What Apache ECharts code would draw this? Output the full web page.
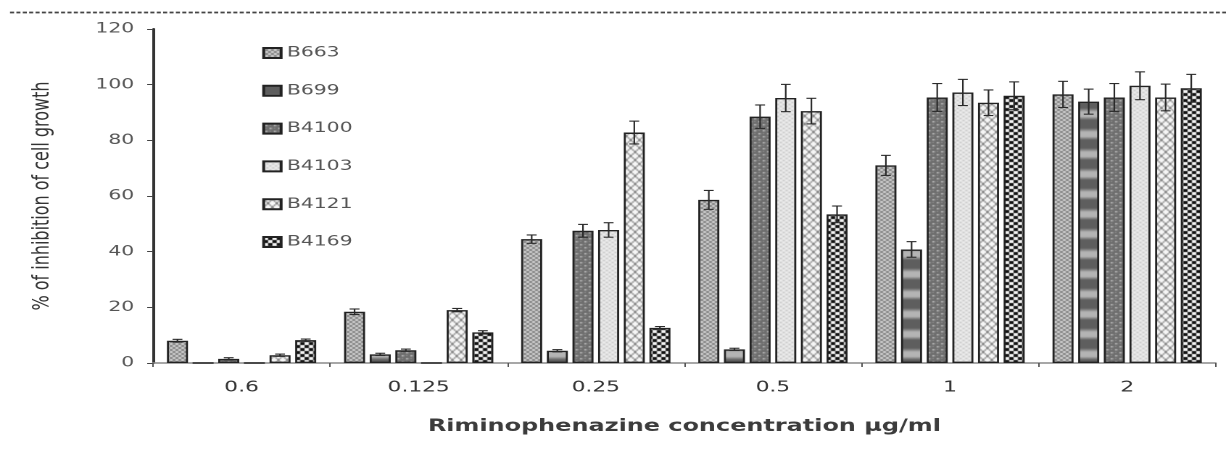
<!DOCTYPE html>
<html>
<head>
<meta charset="utf-8">
<script src="https://cdn.jsdelivr.net/npm/echarts@6/dist/echarts.min.js"></script>
<style>
html,body{margin:0;padding:0;background:#fff;overflow:hidden;}
#wrap{width:1226px;height:451px;overflow:hidden;position:relative;}
#c{position:absolute;left:0;top:0;height:451px;transform-origin:0 0;}
</style>
</head>
<body>
<div id="wrap"><div id="c"></div></div>
<script>
// ---- data ----
const categories = ['0.6', '0.125', '0.25', '0.5', '1', '2'];
const seriesNames = ['B663', 'B699', 'B4100', 'B4103', 'B4121', 'B4169'];
const B663  = [8.0, 18.4, 44.5, 58.6, 71.0, 96.5];
const B699  = [0, 3.1, 4.4, 4.9, 40.8, 93.9];
const B4100 = [1.5, 4.6, 47.5, 88.5, 95.4, 95.4];
const B4103 = [0, 0, 47.8, 95.2, 97.2, 99.6];
const B4121 = [2.8, 19.0, 82.8, 90.5, 93.5, 95.4];
const B4169 = [8.2, 11.0, 12.6, 53.4, 96.0, 98.7];
const err_B663  = [0.5, 1.0, 1.5, 3.4, 3.6, 4.7];
const err_B699  = [0, 0.4, 0.4, 0.4, 2.8, 4.5];
const err_B4100 = [0.4, 0.4, 2.3, 4.2, 5.0, 5.0];
const err_B4103 = [0, 0, 2.6, 4.9, 4.7, 5.0];
const err_B4121 = [0.4, 0.6, 4.1, 4.6, 4.6, 4.8];
const err_B4169 = [0.4, 0.6, 0.5, 3.0, 5.0, 5.0];
const yTicks = {min: 0, max: 120, interval: 20};
const xTitle = 'Riminophenazine concentration µg/ml';
const yTitle = '% of inhibition of cell growth';

const values = [B663, B699, B4100, B4103, B4121, B4169];
const errors = [err_B663, err_B699, err_B4100, err_B4103, err_B4121, err_B4169];

// ---- layout (the source figure is horizontally stretched) ----
const K = 1.45;
const W = 1226 / K;
const el = document.getElementById('c');
el.style.width = W + 'px';
el.style.transform = 'scaleX(' + K + ')';

// ---- patterns ----
function tile(w, h, draw) {
  const cv = document.createElement('canvas');
  cv.width = w; cv.height = h;
  const g = cv.getContext('2d');
  draw(g, w, h);
  return {image: cv, repeat: 'repeat'};
}
const patterns = [
  // B663: grey fine crosshatch
  tile(4, 4, (g) => {
    g.fillStyle = '#cdcdcd'; g.fillRect(0, 0, 4, 4);
    g.fillStyle = '#858585';
    g.fillRect(0, 0, 1, 1); g.fillRect(1, 1, 1, 1); g.fillRect(2, 2, 1, 1); g.fillRect(3, 3, 1, 1);
    g.fillRect(3, 0, 1, 1); g.fillRect(0, 3, 1, 1); g.fillRect(2, 1, 1, 1); g.fillRect(1, 2, 1, 1);
  }),
  // B699: horizontal dark/light bands
  tile(4, 20, (g) => {
    const gr = g.createLinearGradient(0, 0, 0, 20);
    gr.addColorStop(0, '#5e5e5e');
    gr.addColorStop(0.4, '#5e5e5e');
    gr.addColorStop(0.6, '#b4b4b4');
    gr.addColorStop(0.82, '#b4b4b4');
    gr.addColorStop(1, '#5e5e5e');
    g.fillStyle = gr; g.fillRect(0, 0, 4, 20);
  }),
  // B4100: dark grey with light dots
  tile(6, 6, (g) => {
    g.fillStyle = '#6e6e6e'; g.fillRect(0, 0, 6, 6);
    g.fillStyle = '#bdbdbd';
    g.fillRect(1, 1, 1.5, 1.5); g.fillRect(4, 4, 1.5, 1.5);
    g.fillStyle = '#8c8c8c';
    g.fillRect(4, 1, 1, 1); g.fillRect(1, 4, 1, 1);
  }),
  // B4103: very light grey, faint texture
  tile(4, 4, (g) => {
    g.fillStyle = '#e2e2e2'; g.fillRect(0, 0, 4, 4);
    g.fillStyle = '#c4c4c4';
    g.fillRect(0, 0, 1, 1); g.fillRect(2, 2, 1, 1);
    g.fillStyle = '#f2f2f2';
    g.fillRect(2, 0, 1, 1); g.fillRect(0, 2, 1, 1);
  }),
  // B4121: white with grey diamond lattice
  tile(6, 8, (g) => {
    g.fillStyle = '#f6f6f6'; g.fillRect(0, 0, 6, 8);
    g.strokeStyle = '#7a7a7a'; g.lineWidth = 1;
    g.beginPath();
    g.moveTo(0, 0); g.lineTo(3, 4); g.lineTo(0, 8);
    g.moveTo(6, 0); g.lineTo(3, 4); g.lineTo(6, 8);
    g.stroke();
  }),
  // B4169: black / white checker
  tile(6, 6, (g) => {
    g.fillStyle = '#111'; g.fillRect(0, 0, 6, 6);
    g.fillStyle = '#f4f4f4';
    g.fillRect(0, 0, 3, 3); g.fillRect(3, 3, 3, 3);
  })
];

// ---- chart ----
const chart = echarts.init(el, null, {renderer: 'canvas', devicePixelRatio: 2});
const BAR_W = 14.5, BAR_GAP = 0.22;
const STEP = BAR_W * (1 + BAR_GAP);
const FONT = "'DejaVu Sans', Verdana, sans-serif";

const barSeries = seriesNames.map((name, i) => ({
  name: name,
  type: 'bar',
  data: values[i],
  barWidth: BAR_W,
  barGap: (BAR_GAP * 100) + '%',
  itemStyle: {color: patterns[i], borderColor: '#222', borderWidth: 1.4},
  emphasis: {disabled: true},
  z: 2
}));

const errSeries = seriesNames.map((name, i) => ({
  name: name + ' error',
  type: 'custom',
  z: 3,
  silent: true,
  encode: {x: 0, y: 1},
  data: categories.map((c, j) => [j, values[i][j], errors[i][j]]),
  renderItem: function (params, api) {
    const e = api.value(2);
    if (!e) return null;
    const idx = api.value(0), v = api.value(1);
    const off = (i - 2.5) * STEP;
    const top = api.coord([idx, v + e]);
    const bot = api.coord([idx, v - e]);
    const x = top[0] + off;
    const hw = 3.4;
    const st = {stroke: '#2a2a2a', lineWidth: 1.1};
    return {
      type: 'group',
      children: [
        {type: 'line', shape: {x1: x, y1: top[1], x2: x, y2: bot[1]}, style: st},
        {type: 'line', shape: {x1: x - hw, y1: top[1], x2: x + hw, y2: top[1]}, style: st},
        {type: 'line', shape: {x1: x - hw, y1: bot[1], x2: x + hw, y2: bot[1]}, style: st}
      ]
    };
  }
}));

chart.setOption({
  animation: false,
  backgroundColor: '#fff',
  textStyle: {fontFamily: FONT},
  graphic: [{
    type: 'line',
    shape: {x1: 10 / K, y1: 12.5, x2: W, y2: 12.5},
    style: {stroke: '#444', lineWidth: 1.8, lineDash: [2.8, 1.6]}
  }],
  grid: {left: 153 / K, right: 11 / K, top: 29, bottom: 88, containLabel: false},
  legend: {
    orient: 'vertical',
    left: 255 / K,
    top: 41,
    data: seriesNames,
    icon: 'rect',
    itemWidth: 12,
    itemHeight: 10,
    itemGap: 23.8,
    textStyle: {fontFamily: FONT, fontSize: 14, color: '#555', lineHeight: 14, padding: [0, 0, 0, -1]},
    selectedMode: false
  },
  xAxis: {
    type: 'category',
    data: categories,
    name: xTitle,
    nameLocation: 'middle',
    nameGap: 55,
    nameTextStyle: {fontFamily: FONT, fontSize: 16.5, fontWeight: 'bold', color: '#3c3c3c'},
    axisLine: {lineStyle: {color: '#8a8a8a', width: 1.5}},
    axisTick: {show: true, length: 4, lineStyle: {color: '#555', width: 1}},
    axisLabel: {fontFamily: FONT, fontSize: 15, color: '#333', margin: 17}
  },
  yAxis: {
    type: 'value',
    min: yTicks.min,
    max: yTicks.max,
    interval: yTicks.interval,
    name: yTitle,
    nameLocation: 'middle',
    nameGap: 68,
    nameTextStyle: {fontFamily: FONT, fontSize: 16, color: '#333'},
    axisLine: {show: true, lineStyle: {color: '#333', width: 2}},
    axisTick: {show: true, length: 4, lineStyle: {color: '#444', width: 1}},
    axisLabel: {fontFamily: FONT, fontSize: 14, color: '#555', margin: 13},
    splitLine: {show: false}
  },
  series: barSeries.concat(errSeries)
});
</script>
</body>
</html>
